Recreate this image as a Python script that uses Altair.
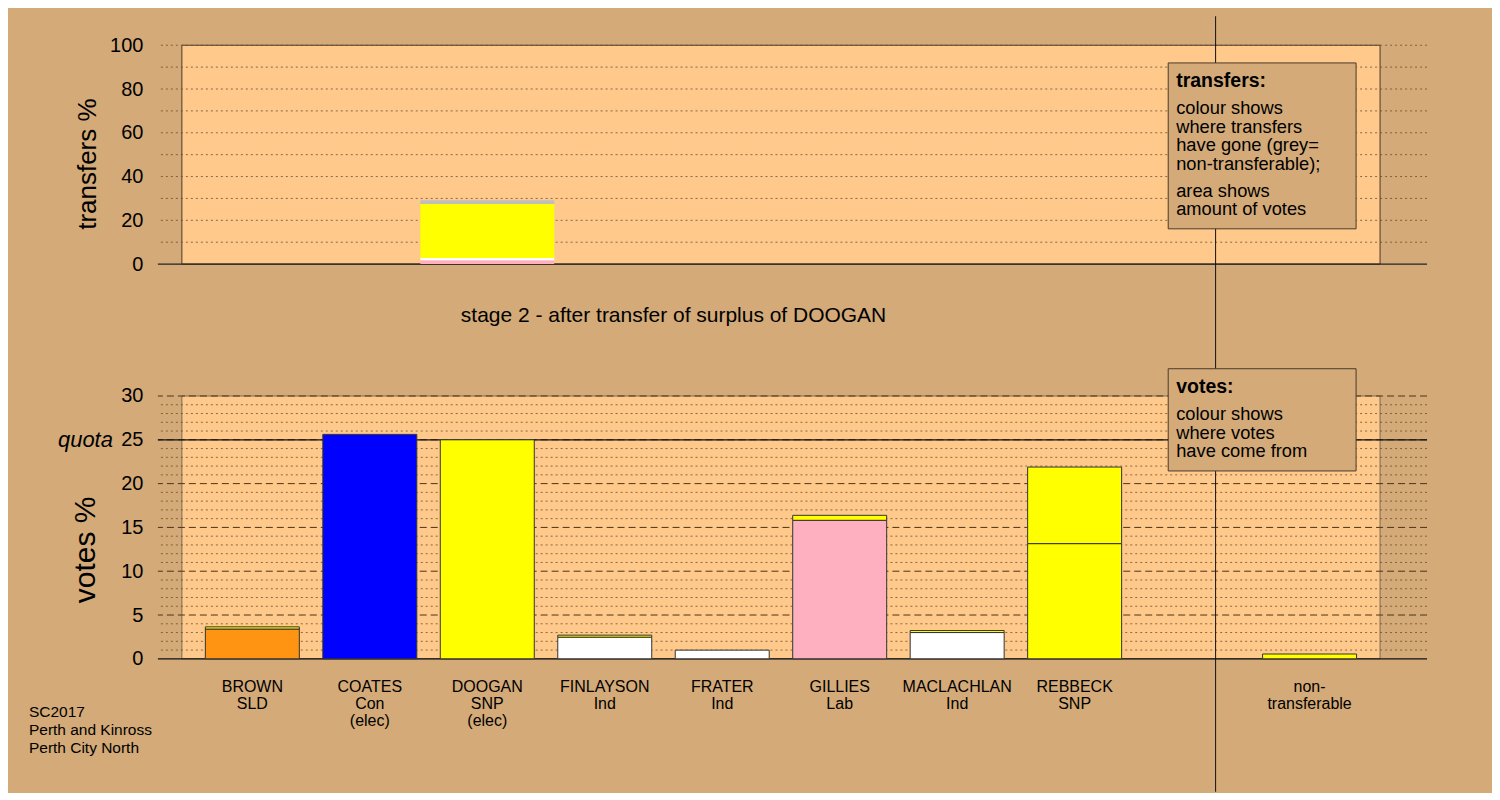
import altair as alt
import pandas as pd

FONT = "Liberation Sans"
BG = "#D3AA78"
PLOT_BG = "#FFC98B"

# ---- data ----
candidates = ["BROWN", "COATES", "DOOGAN", "FINLAYSON", "FRATER", "GILLIES",
              "MACLACHLAN", "REBBECK", "non-transferable"]
labels = ["BROWN\nSLD", "COATES\nCon\n(elec)", "DOOGAN\nSNP\n(elec)", "FINLAYSON\nInd",
          "FRATER\nInd", "GILLIES\nLab", "MACLACHLAN\nInd", "REBBECK\nSNP",
          "non-\ntransferable"]
slots = [0, 1, 2, 3, 4, 5, 6, 7, 9]
base_votes = [3.40, 25.62, 25.0, 2.47, 0.99, 15.81, 3.00, 13.15, 0.0]
transfer_votes = [0.25, 0.0, 0.0, 0.23, 0.0, 0.57, 0.23, 8.74, 0.55]
base_colors = ["#FF9412", "#0000FF", "#FFFF00", "#FFFFFF", "#FFFFFF", "#FFB0C0",
               "#FFFFFF", "#FFFF00", "#FFFF00"]
transfer_color = "#FFFF00"

# transfers (top panel) segments of DOOGAN's surplus, stacked bottom->top
seg_names = ["GILLIES", "FINLAYSON/MACLACHLAN", "REBBECK", "non-transferable"]
seg_pct = [1.7, 1.1, 24.7, 1.7]
seg_start = [0.0]
for v in seg_pct[:-1]:
    seg_start.append(seg_start[-1] + v)
seg_colors = ["#FFB0C0", "#FFFFFF", "#FFFF00", "#BEBEBE"]
transfer_from_slot = 2
transfer_bar_width = 1.14

top_ticks = [0, 20, 40, 60, 80, 100]
top_grid = [10, 20, 30, 40, 50, 60, 70, 80, 90, 100]
bot_ticks = [0, 5, 10, 15, 20, 25, 30]
bot_dotted = [v for v in range(1, 31) if v % 5 != 0]
bot_dashed = [5, 10, 15, 20, 25, 30]
quota = 25

XDOM = [-0.804, 10.0]
PLOT_X = [-0.6, 9.6]
DIVIDER_X = 8.2
W = 1270
H1 = 219
H2 = 263
BAR_HALF = 0.4

xs = alt.Scale(domain=XDOM, nice=False, zero=False)
ys1 = alt.Scale(domain=[0, 100], nice=False)
ys2 = alt.Scale(domain=[0, 30], nice=False)

def yaxis(vals):
    return alt.Axis(values=vals, grid=False, domain=False, ticks=False, title=None,
                    labelFontSize=20, labelPadding=15, labelColor="black", labelFont=FONT)

AX1 = yaxis(top_ticks)
AX2 = yaxis(bot_ticks)

# ---------- top panel ----------
top_bg = alt.Chart(pd.DataFrame({"x": [PLOT_X[0]], "x2": [PLOT_X[1]], "y": [0], "y2": [100]})).mark_rect(
    fill=PLOT_BG, stroke="#4a3a2a", strokeWidth=1
).encode(
    x=alt.X("x:Q", scale=xs, axis=None), x2="x2:Q",
    y=alt.Y("y:Q", scale=ys1, axis=AX1), y2="y2:Q",
)
top_grid_l = alt.Chart(pd.DataFrame({"y": top_grid})).mark_rule(
    color="#6a5030", strokeDash=[2, 3], strokeWidth=1, opacity=0.8
).encode(y=alt.Y("y:Q", scale=ys1, axis=AX1))
top_base = alt.Chart(pd.DataFrame({"y": [0]})).mark_rule(color="#222", strokeWidth=1.2).encode(
    y=alt.Y("y:Q", scale=ys1, axis=AX1))
seg_df = pd.DataFrame({
    "name": seg_names, "y": seg_start,
    "y2": [s + v for s, v in zip(seg_start, seg_pct)], "color": seg_colors,
    "x": [transfer_from_slot - transfer_bar_width / 2] * len(seg_names),
    "x2": [transfer_from_slot + transfer_bar_width / 2] * len(seg_names),
})
top_bars = alt.Chart(seg_df).mark_rect().encode(
    x=alt.X("x:Q", scale=xs, axis=None), x2="x2:Q",
    y=alt.Y("y:Q", scale=ys1, axis=AX1), y2="y2:Q",
    fill=alt.Fill("color:N", scale=None),
)
top_div = alt.Chart(pd.DataFrame({"x": [DIVIDER_X]})).mark_rule(color="#111", strokeWidth=1).encode(
    x=alt.X("x:Q", scale=xs, axis=None), y=alt.value(-29), y2=alt.value(351))
top_box = alt.Chart(pd.DataFrame({"a": [0]})).mark_rect(
    fill=BG, stroke="#4a3a2a", strokeWidth=1
).encode(x=alt.value(1011), x2=alt.value(1199), y=alt.value(17.7), y2=alt.value(183.7))
top_box_title = alt.Chart(pd.DataFrame({"t": ["transfers:"]})).mark_text(
    align="left", baseline="alphabetic", fontSize=19.5, fontWeight="bold", font=FONT, color="black"
).encode(text="t:N", x=alt.value(1019), y=alt.value(41.7))
body_style = dict(align="left", baseline="alphabetic", fontSize=18.3, font=FONT, color="black",
                  lineBreak="\n", lineHeight=18.5)
top_box_body1 = alt.Chart(pd.DataFrame({"t": ["colour shows\nwhere transfers\nhave gone (grey=\nnon-transferable);"]})).mark_text(
    **body_style).encode(text="t:N", x=alt.value(1019), y=alt.value(69.3))
top_box_body2 = alt.Chart(pd.DataFrame({"t": ["area shows\namount of votes"]})).mark_text(
    **body_style).encode(text="t:N", x=alt.value(1019), y=alt.value(151.7))
stage_title = alt.Chart(pd.DataFrame({"t": ["stage 2 - after transfer of surplus of DOOGAN"]})).mark_text(
    align="center", baseline="middle", fontSize=21, font=FONT, color="black"
).encode(text="t:N", x=alt.value(516), y=alt.value(271))
top_ytitle = alt.Chart(pd.DataFrame({"t": ["transfers %"]})).mark_text(
    align="center", baseline="middle", fontSize=26, font=FONT, color="black", angle=270
).encode(text="t:N", x=alt.value(-70), y=alt.value(119))

top = alt.layer(top_bg, top_grid_l, top_base, top_bars, top_div, top_box, top_box_title,
                top_box_body1, top_box_body2, stage_title, top_ytitle).properties(width=W, height=H1)

# ---------- bottom panel ----------
bars_df = pd.DataFrame({
    "cand": candidates, "slot": slots, "base": base_votes, "tr": transfer_votes,
    "color": base_colors, "label": labels,
})
bars_df["top"] = bars_df["base"] + bars_df["tr"]

bot_bg = alt.Chart(pd.DataFrame({"x": [PLOT_X[0]], "x2": [PLOT_X[1]], "y": [0], "y2": [30]})).mark_rect(
    fill=PLOT_BG, stroke="#7a6a5a", strokeWidth=1
).encode(
    x=alt.X("x:Q", scale=xs, axis=None), x2="x2:Q",
    y=alt.Y("y:Q", scale=ys2, axis=AX2), y2="y2:Q",
)
bot_dot = alt.Chart(pd.DataFrame({"y": bot_dotted})).mark_rule(
    color="#6a5030", strokeDash=[2, 3], strokeWidth=1, opacity=0.8
).encode(y=alt.Y("y:Q", scale=ys2, axis=AX2))
bot_dash = alt.Chart(pd.DataFrame({"y": bot_dashed})).mark_rule(
    color="#4a3418", strokeDash=[7, 4], strokeWidth=1
).encode(y=alt.Y("y:Q", scale=ys2, axis=AX2))
bot_solid = alt.Chart(pd.DataFrame({"y": [0, quota]})).mark_rule(color="#111", strokeWidth=1.3).encode(
    y=alt.Y("y:Q", scale=ys2, axis=AX2))
base_bars = alt.Chart(bars_df).transform_filter("datum.base > 0").transform_calculate(
    x1=f"datum.slot - {BAR_HALF}", x2=f"datum.slot + {BAR_HALF}", y0="0"
).mark_rect(stroke="#333", strokeWidth=1).encode(
    x=alt.X("x1:Q", scale=xs, axis=None), x2="x2:Q",
    y=alt.Y("y0:Q", scale=ys2, axis=AX2), y2="base:Q",
    fill=alt.Fill("color:N", scale=None),
)
tr_bars = alt.Chart(bars_df).transform_filter("datum.tr > 0").transform_calculate(
    x1=f"datum.slot - {BAR_HALF}", x2=f"datum.slot + {BAR_HALF}"
).mark_rect(stroke="#333", strokeWidth=1, fill=transfer_color).encode(
    x=alt.X("x1:Q", scale=xs, axis=None), x2="x2:Q",
    y=alt.Y("base:Q", scale=ys2, axis=AX2), y2="top:Q",
)
bot_div = alt.Chart(pd.DataFrame({"x": [DIVIDER_X]})).mark_rule(color="#111", strokeWidth=1).encode(
    x=alt.X("x:Q", scale=xs, axis=None), y=alt.value(0), y2=alt.value(396))
bot_box = alt.Chart(pd.DataFrame({"a": [0]})).mark_rect(
    fill=BG, stroke="#4a3a2a", strokeWidth=1
).encode(x=alt.value(1011), x2=alt.value(1199), y=alt.value(-27.3), y2=alt.value(75))
bot_box_title = alt.Chart(pd.DataFrame({"t": ["votes:"]})).mark_text(
    align="left", baseline="alphabetic", fontSize=19.5, fontWeight="bold", font=FONT, color="black"
).encode(text="t:N", x=alt.value(1019), y=alt.value(-3.3))
bot_box_body = alt.Chart(pd.DataFrame({"t": ["colour shows\nwhere votes\nhave come from"]})).mark_text(
    **body_style).encode(text="t:N", x=alt.value(1019), y=alt.value(24.3))
quota_txt = alt.Chart(pd.DataFrame({"y": [quota], "t": ["quota"]})).mark_text(
    align="right", baseline="middle", fontSize=22, fontStyle="italic", font=FONT, color="black"
).encode(text="t:N", x=alt.value(-45), y=alt.Y("y:Q", scale=ys2, axis=AX2))
x_labels = alt.Chart(bars_df).mark_text(
    align="center", baseline="alphabetic", fontSize=16, font=FONT, color="black", lineBreak="\n", lineHeight=17.5
).encode(text="label:N", x=alt.X("slot:Q", scale=xs, axis=None), y=alt.value(295.7))
footer = alt.Chart(pd.DataFrame({"t": ["SC2017\nPerth and Kinross\nPerth City North"]})).mark_text(
    align="left", baseline="alphabetic", fontSize=15.5, font=FONT, color="black", lineBreak="\n", lineHeight=18
).encode(text="t:N", x=alt.value(-129), y=alt.value(321.7))
bot_ytitle = alt.Chart(pd.DataFrame({"t": ["votes %"]})).mark_text(
    align="center", baseline="middle", fontSize=30, font=FONT, color="black", angle=270
).encode(text="t:N", x=alt.value(-72), y=alt.value(154))

bottom = alt.layer(bot_bg, bot_dot, bot_dash, bot_solid, base_bars, tr_bars, bot_div, bot_box,
                   bot_box_title, bot_box_body, quota_txt, x_labels, footer, bot_ytitle
                   ).properties(width=W, height=H2)

chart = alt.vconcat(top, bottom, spacing=132, bounds="flush").properties(
    padding={"left": 21, "top": 7, "right": 64, "bottom": 0},
    background=BG,
).configure_view(stroke=None).configure_axis(labelFont=FONT)

chart.save("out.html", embed_options={"renderer": "svg", "actions": False})
